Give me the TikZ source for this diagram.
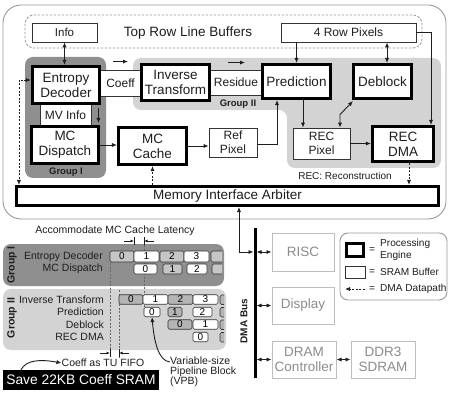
\documentclass[tikz,border=0pt]{standalone}
\usepackage{fontspec}
\setmainfont{Liberation Sans}
\usetikzlibrary{arrows.meta}
\definecolor{gOne}{HTML}{8F8F8F}
\definecolor{gTwo}{HTML}{D3D3D3}
\definecolor{cellA}{HTML}{C6C6C6}
\definecolor{cellB}{HTML}{B4B4B4}
\definecolor{frameg}{HTML}{9A9A9A}
\definecolor{periph}{HTML}{BDBDBD}
\definecolor{periphtxt}{HTML}{8C8C8C}
\definecolor{txt}{HTML}{1E1E1E}
\newcommand{\fsz}[2]{\fontsize{#1}{#2}\selectfont}
\begin{document}
\begin{tikzpicture}[x=1pt,y=-1pt,
  tip/.tip={Latex[length=5pt,width=4.2pt]},
  arr/.style={-tip, line width=0.9pt, draw=txt},
  dbl/.style={tip-tip, line width=0.9pt, draw=txt},
  dsh/.style={dash pattern=on 2pt off 1.6pt, line width=0.9pt},
  pe/.style={draw=black, line width=2.6pt, fill=white, inner sep=0pt, align=center, text=txt, font=\fsz{13.5}{15}},
  buf/.style={draw=black!80, line width=0.9pt, fill=white, inner sep=0pt, align=center, text=txt, font=\fsz{12}{14}},
  per/.style={draw=periph, line width=1pt, fill=white, inner sep=0pt, align=center, text=periphtxt, font=\fsz{13.5}{15}},
  plab/.style={anchor=east, inner sep=0pt, text=txt, font=\fsz{10.5}{12}},
  cell/.style={draw=black!80, line width=0.6pt, rounded corners=1.5pt, inner sep=0pt, text=black, font=\fsz{10}{10}},
  cw/.style={cell, fill=white},
  cg/.style={cell, fill=cellA},
  cgb/.style={cell, fill=cellB},
  grp/.style={inner sep=0pt, text=txt, font=\bfseries\fsz{9.5}{10}},
  lgt/.style={inner sep=0pt, text=txt, font=\fsz{10.1}{12}},
  tick/.style={line width=0.7pt, draw=txt},
  sarr/.style={-{Latex[length=3.5pt,width=3pt]}, line width=0.7pt, draw=txt},
  vdash/.style={draw=black!60, line width=0.7pt, dash pattern=on 2pt off 1.5pt}
]
\useasboundingbox (0,0) rectangle (449,395);
\fill[white] (0,0) rectangle (449,395);

% ---------- upper architecture ----------
\draw[frameg, line width=0.9pt, rounded corners=18] (3,5) rectangle (446,219);
\draw[frameg, line width=0.8pt, dash pattern=on 2.5pt off 1.5pt, rounded corners=9] (25,15) rectangle (422,48);

\fill[gOne, rounded corners=8] (25,57) rectangle (106,178);
\fill[gTwo, rounded corners=8] (133,58) -- (441,58) -- (441,168) -- (287,168) -- (287,110) -- (133,110) -- cycle;

\node[grp] (g1) at (66,172) {Group I};
\node[grp] (g2) at (238,104) {Group II};

\node[buf, minimum width=65, minimum height=19, font=\fsz{11.5}{13}] (info) at (64.5,32.5) {Info};
\node[inner sep=0pt, text=txt, font=\fsz{13.5}{15}] (trlb) at (188,33) {Top Row Line Buffers};
\node[buf, minimum width=135, minimum height=19] (rp4) at (348.5,32.5) {4 Row Pixels};

\node[buf, minimum width=43, minimum height=26] (coeff) at (120.5,83) {Coeff};
\node[buf, minimum width=54, minimum height=25] (res) at (236,82.5) {Residue};
\node[buf, minimum width=51, minimum height=24] (mvi) at (65.5,115.5) {MV Info};

\node[pe, minimum width=67.5, minimum height=37.5] (ed) at (66,85) {Entropy\\Decoder};
\node[pe, minimum width=68.5, minimum height=36.5] (it) at (175.5,82.5) {Inverse\\Transform};
\node[pe, minimum width=68.5, minimum height=34.5] (pred) at (296.5,81.5) {Prediction};
\node[pe, minimum width=58.5, minimum height=34.5] (deb) at (382.5,81.5) {Deblock};
\node[pe, minimum width=67.5, minimum height=37.5] (mcd) at (65,145) {MC\\Dispatch};
\node[pe, minimum width=68.5, minimum height=37.5] (mcc) at (152.5,146) {MC\\Cache};
\node[buf, minimum width=48, minimum height=29] (ref) at (233,142.5) {Ref\\Pixel};
\node[buf, minimum width=57, minimum height=31] (recpix) at (321.5,143.5) {REC\\Pixel};
\node[pe, minimum width=61.5, minimum height=35.5] (recdma) at (403,144) {REC\\DMA};
\node[pe, minimum width=422.5, minimum height=19.5] (arb) at (227.5,196) {Memory Interface Arbiter};
\node[inner sep=0pt, text=txt, font=\fsz{10}{11}] (recnote) at (345,176) {REC: Reconstruction};

% connectors
\draw[dbl] (info.south) -- (info.south |- ed.north);
\draw[arr] (rp4.south -| pred.north) -- (pred.north);
\draw[dbl] ([xshift=4.5pt]deb.north) -- ([xshift=4.5pt]deb.north |- rp4.south);
\draw[arr] (rp4.east) -| ([xshift=28pt]recdma.north);
\draw[arr] ([xshift=6.5pt]pred.south) -- ([xshift=6.5pt]pred.south |- recpix.north);
\draw[dbl] ([xshift=18.5pt]recpix.north) -- ++(0,-13) -- ([shift={(1pt,-1pt)}]deb.south west);
\draw[arr] (recpix.east) -- (recpix.east -| recdma.west);
\draw[arr] (mcd.east) -- (mcd.east -| mcc.west);
\draw[arr] (mcc.east) -- (mcc.east -| ref.west);
\draw[arr] ([yshift=-2pt]ref.east) -| ([xshift=-19.5pt]pred.south);
\draw[dbl, dsh] ([yshift=5pt]ed.west) -| ([xshift=4pt]arb.north west);
\draw[arr, dsh] (arb.north -| mcc.south) -- (mcc.south);
\draw[arr, dsh] ([xshift=6pt]recdma.south) -- ([xshift=6pt]recdma.south |- arb.north);
% flow annotations
\draw[arr] ([shift={(-7.5pt,8pt)}]coeff.north) -- ++(15,0);
\draw[arr] ([shift={(-8pt,7pt)}]res.north) -- ++(17,0);
\draw[arr] ([shift={(7pt,7.5pt)}]mvi.east) -- ++(0,15);

% ---------- DMA bus & peripherals ----------
\coordinate (busT) at (255,228);
\coordinate (busB) at (255,378);
\coordinate (dmaj) at (239,252);
\draw[line width=3pt] (busT) -- (busB);
\node[rotate=90, inner sep=0pt, text=txt, font=\bfseries\fsz{10}{11}] (dmabus) at (244,321) {DMA Bus};

\node[per, minimum width=62, minimum height=38] (risc) at (303,252) {RISC};
\node[per, minimum width=62, minimum height=37] (disp) at (303,305.5) {Display};
\node[per, minimum width=64, minimum height=37] (dram) at (304,359.5) {DRAM\\Controller};
\node[per, minimum width=64, minimum height=37] (ddr) at (383,359.5) {DDR3\\SDRAM};

\draw[dbl, shorten >=1.5pt] (dmaj |- arb.south) -- (dmaj) -- (dmaj -| busT);
\draw[dbl, shorten <=1.5pt] (risc.west -| busT) -- (risc.west);
\draw[dbl, shorten <=1.5pt] (disp.west -| busT) -- (disp.west);
\draw[dbl, shorten <=1.5pt] (dram.west -| busT) -- (dram.west);
\draw[dbl] (dram.east) -- (ddr.west);

% legend
\draw[frameg, line width=0.9pt, rounded corners=8] (340,233) rectangle (447,300);
\node[draw=black, line width=2.6pt, minimum width=17.5, minimum height=13.5, inner sep=0pt] (lgpe) at (355,250) {};
\node[lgt] (lgeq1) at (372,250) {=};
\node[lgt, anchor=west, align=left] (lgt1) at (380,250) {Processing\\Engine};
\node[draw=black!80, line width=0.9pt, minimum width=20, minimum height=12, inner sep=0pt] (lgbuf) at (355,272) {};
\node[lgt] (lgeq2) at (372,272) {=};
\node[lgt, anchor=west] (lgt2) at (380,272) {SRAM Buffer};
\coordinate (lgA) at (365,289);
\coordinate (lgB) at (345,289);
\draw[arr, dsh] (lgA) -- (lgB);
\node[lgt] (lgeq3) at (372,289) {=};
\node[lgt, anchor=west] (lgt3) at (380,289) {DMA Datapath};

% ---------- pipeline schedule ----------
\fill[gOne, rounded corners=8] (3,244) rectangle (224,286);
\fill[gTwo, rounded corners=8] (3,289) rectangle (226,350);

\node[rotate=90, inner sep=0pt, text=txt, font=\bfseries\fsz{10.5}{11}] (pg1) at (12,265) {Group I};
\node[rotate=90, inner sep=0pt, text=txt, font=\bfseries\fsz{10.5}{11}] (pg2) at (12,318) {Group II};

\node[plab] (lED) at (103,256.5) {Entropy Decoder};
\node[plab] (lMC) at (103,269) {MC Dispatch};
\node[plab] (lIT) at (104,299.5) {Inverse Transform};
\node[plab] (lPR) at (104,312) {Prediction};
\node[plab] (lDB) at (104,324.5) {Deblock};
\node[plab] (lRD) at (104,337) {REC DMA};

\node[inner sep=0pt, text=txt, font=\fsz{10.5}{12}] (acc) at (115,231) {Accommodate MC Cache Latency};

% dashed guide lines
\coordinate (dA1) at (144,238); \coordinate (dA2) at (144,307);
\coordinate (dB1) at (110,263); \coordinate (dB2) at (110,357);
\coordinate (dC1) at (119,290); \coordinate (dC2) at (119,357);
\draw[vdash] (dA1) -- (dA2);
\draw[vdash] (dB1) -- (dB2);
\draw[vdash] (dC1) -- (dC2);

% latency markers
\coordinate (tk1) at (134,241); \coordinate (tk2) at (144,241);
\draw[tick] ([yshift=4pt]tk1) -- ([yshift=-4pt]tk1);
\draw[tick] ([yshift=4pt]tk2) -- ([yshift=-4pt]tk2);
\draw[sarr] ([xshift=-10pt]tk1) -- (tk1);
\draw[sarr] ([xshift=10pt]tk2) -- (tk2);
\coordinate (tk3) at (110,353); \coordinate (tk4) at (119,353);
\draw[tick] ([yshift=4pt]tk3) -- ([yshift=-4pt]tk3);
\draw[tick] ([yshift=4pt]tk4) -- ([yshift=-4pt]tk4);
\draw[sarr] ([xshift=-10pt]tk3) -- (tk3);
\draw[sarr] ([xshift=10pt]tk4) -- (tk4);

% partial cells (clipped at region edge)
\begin{scope}
\clip (0,244) rectangle (222,286);
\draw[draw=black!80, line width=0.6pt, fill=cellA, rounded corners=1.5pt] (211,251) rectangle (245,262);
\draw[draw=black!80, line width=0.6pt, fill=cellA, rounded corners=1.5pt] (212,264) rectangle (245,274);
\end{scope}
\begin{scope}
\clip (0,289) rectangle (224,350);
\draw[draw=black!80, line width=0.6pt, fill=cellB, rounded corners=1.5pt] (220,295) rectangle (250,304.5);
\draw[draw=black!80, line width=0.6pt, fill=cellB, rounded corners=1.5pt] (220,307.5) rectangle (250,317);
\draw[draw=black!80, line width=0.6pt, fill=cellB, rounded corners=1.5pt] (220,320) rectangle (250,329.5);
\draw[draw=black!80, line width=0.6pt, fill=cellB, rounded corners=1.5pt] (220,332.5) rectangle (250,342);
\end{scope}

% Group I cells
\node[cg, minimum width=24, minimum height=11] (ed0) at (122,256.5) {0};
\node[cw, minimum width=25, minimum height=11] (ed1) at (146.5,256.5) {1};
\node[cg, minimum width=24, minimum height=11] (ed2) at (172,256.5) {2};
\node[cw, minimum width=25, minimum height=11] (ed3) at (196.5,256.5) {3};
\node[cw, minimum width=23, minimum height=10] (mc0) at (145.5,269) {0};
\node[cg, minimum width=19, minimum height=10] (mc1) at (172.5,269) {1};
\node[cw, minimum width=20, minimum height=10] (mc2) at (197,269) {2};
% Group II cells
\node[cgb, minimum width=24, minimum height=9.5] (it0) at (131,299.5) {0};
\node[cw, minimum width=25, minimum height=9.5] (it1) at (155.5,299.5) {1};
\node[cgb, minimum width=25, minimum height=9.5] (it2) at (180.5,299.5) {2};
\node[cw, minimum width=25, minimum height=9.5] (it3) at (205.5,299.5) {3};
\node[cw, minimum width=16, minimum height=9.5] (pr0) at (152,312) {0};
\node[cgb, minimum width=14, minimum height=9.5] (pr1) at (175,312) {1};
\node[cw, minimum width=19, minimum height=9.5] (pr2) at (202.5,312) {2};
\node[cgb, minimum width=24, minimum height=9.5] (db0) at (180,324.5) {0};
\node[cw, minimum width=25, minimum height=9.5] (db1) at (205.5,324.5) {1};
\node[cw, minimum width=15, minimum height=9.5] (rd0) at (200.5,337) {0};

% bottom annotations
\node[inner sep=0pt, text=txt, font=\fsz{10.5}{12}] (cfifo) at (103,363) {Coeff as TU FIFO};
\node[fill=black, text=white, minimum width=156, minimum height=20, inner sep=0pt, font=\fsz{13.8}{15}] (save) at (81,380) {Save 22KB Coeff SRAM};
\draw[arr] ([xshift=-60pt]save.north) .. controls (26,360) and (40,359) .. (cfifo.west);
\node[anchor=west, align=left, inner sep=0pt, text=txt, font=\fsz{10.5}{10}] (vpb) at (170,372) {Variable-size\\Pipeline Block\\(VPB)};
\draw[arr] ([yshift=10pt]vpb.west) .. controls (158,361) and (154,340) .. (pr0.south);
\end{tikzpicture}
\end{document}
